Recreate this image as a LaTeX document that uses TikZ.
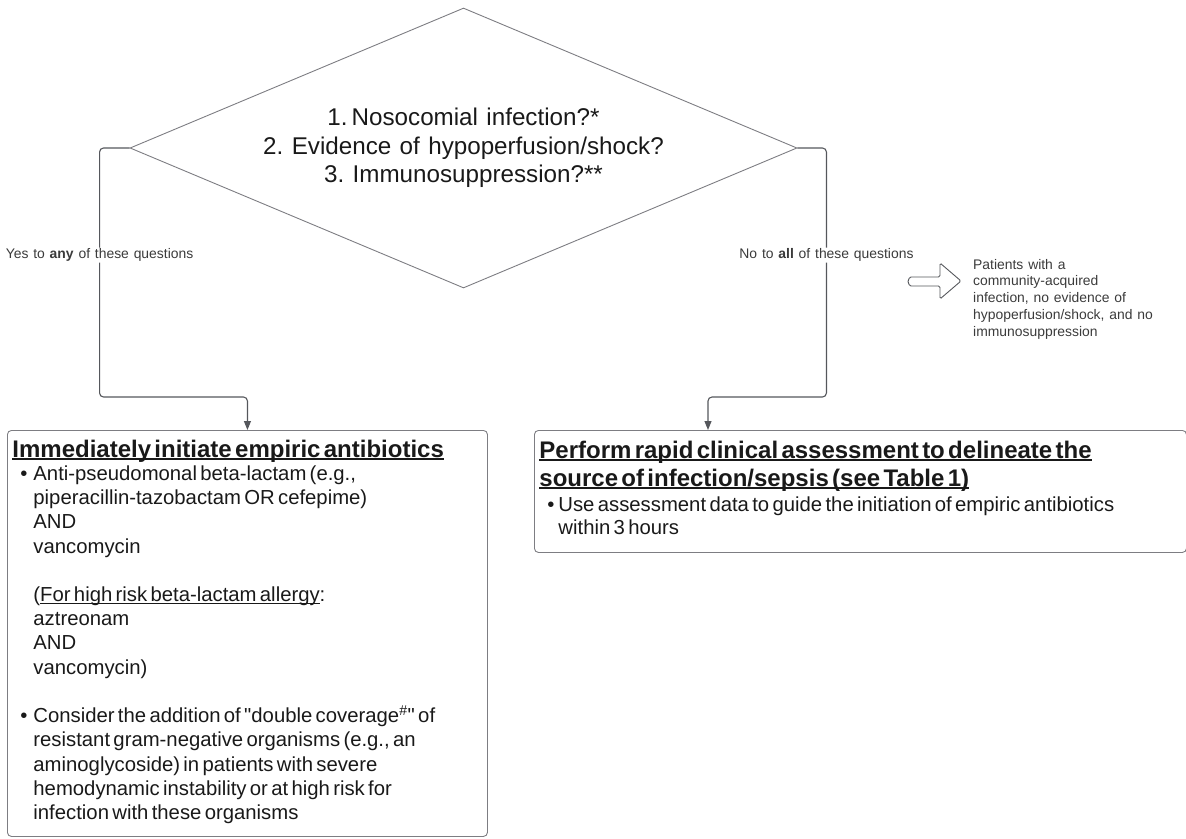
\documentclass[tikz,border=0pt]{standalone}
\usepackage{fontspec}
\setmainfont{Liberation Sans}[WordSpace=1.25]
\newfontface\quotefont{Liberation Sans}
\usetikzlibrary{arrows.meta, positioning, shapes.geometric, calc}
\definecolor{linegray}{RGB}{85,87,92}
\definecolor{edgegray}{RGB}{125,125,130}
\definecolor{inkcolor}{RGB}{25,25,25}
\frenchspacing
\newcommand{\bigtitle}{\fontsize{24}{28}\selectfont\bfseries}
\newcommand{\bodysize}{\fontsize{20.3}{24.2}\selectfont}
\newcommand{\dq}{{\quotefont"}}
% underline that sits just below the baseline
\newcommand{\ulined}[2][1.1pt]{\leavevmode\setbox0\hbox{#2}\rlap{\rule[-2.6pt]{\wd0}{#1}}\box0}
\tikzset{
  question/.style = {diamond, aspect=2.382, draw=edgegray, line width=0.9pt, minimum width=667pt,
                     minimum height=280pt, inner sep=0pt, align=center,
                     font=\fontsize{24.2}{28.5}\selectfont, text=inkcolor},
  panel/.style    = {draw=edgegray, line width=0.9pt, rounded corners=4pt, anchor=north west,
                     align=left, text=inkcolor, inner xsep=5pt, inner ysep=5pt},
  link/.style     = {-{Triangle[length=9pt,width=7pt]}, draw=linegray, line width=1.1pt,
                     rounded corners=4pt},
  answer/.style   = {fill=white, font=\fontsize{13.9}{16}\selectfont, text=inkcolor!85,
                     inner sep=1pt},
  hollow/.style   = {draw=linegray, line width=0.9pt, rounded corners=1.5pt},
}

\begin{document}
\begin{tikzpicture}[x=1pt, y=-1pt]
  \useasboundingbox (0,0) rectangle (1186,838);

  % decision
  \node[question] (quest) at (463.5,148)
    {1.\,Nosocomial infection?*\\ 2. Evidence of hypoperfusion/shock?\\ 3. Immunosuppression?**};

  % outcome boxes
  \node[panel, text width=470pt, minimum height=406pt] (empiric) at (7,430) {%
    {\bigtitle\ulined[1.8pt]{Immediately initiate empiric antibiotics}\par}
    \bodysize\noindent
    \begin{tabular}{@{\hspace{8pt}}p{13pt}@{}l@{}}
      \textbullet & Anti-pseudomonal beta-lactam (e.g.,\\
                  & piperacillin-tazobactam OR cefepime)\\
                  & AND\\
                  & vancomycin\\
                  & \\
                  & (\ulined{For high risk beta-lactam allergy}:\\
                  & aztreonam\\
                  & AND\\
                  & vancomycin)\\
                  & \\
      \textbullet & Consider the addition of \dq double coverage\textsuperscript{\#}\dq{} of\\
                  & resistant gram-negative organisms (e.g., an\\
                  & aminoglycoside) in patients with severe\\
                  & hemodynamic instability or at high risk for\\
                  & infection with these organisms
    \end{tabular}};
  \node[panel, text width=642pt, minimum height=122pt] (assess) at (534,430) {%
    {\bigtitle\ulined[1.8pt]{Perform rapid clinical assessment to delineate the}\par
     \ulined[1.8pt]{source of infection/sepsis (see Table 1)}\par}
    \vspace{3pt}\fontsize{20.3}{23}\selectfont\noindent
    \begin{tabular}{@{\hspace{8pt}}p{11pt}@{}l@{}}
      \textbullet & Use assessment data to guide the initiation of empiric antibiotics\\
                  & within 3 hours
    \end{tabular}};

  % side note
  \node[anchor=north west, align=left, inner sep=0pt, text=inkcolor!85,
        font=\fontsize{13.9}{16.7}\selectfont] (cohort) at (973,259)
    {Patients with a\\ community-acquired\\ infection, no evidence of\\
     hypoperfusion/shock, and no\\ immunosuppression};
  \draw[hollow] (940,277) -- (940,263) -- (961,281) -- (940,299) -- (940,286)
    -- (912.5,286) arc[start angle=90, end angle=270, radius=4.5] -- cycle;

  % branches
  \draw[link] (quest.west) -- ++(-30,0)
    -- node[answer, pos=0.43] {Yes to \textbf{any} of these questions} ++(0,249)
    -| (empiric.north);
  \draw[link] (quest.east) -- ++(29,0)
    -- node[answer, pos=0.43] {No to \textbf{all} of these questions} ++(0,249)
    -| ($(assess.north west)+(174,0)$);
\end{tikzpicture}
\end{document}
